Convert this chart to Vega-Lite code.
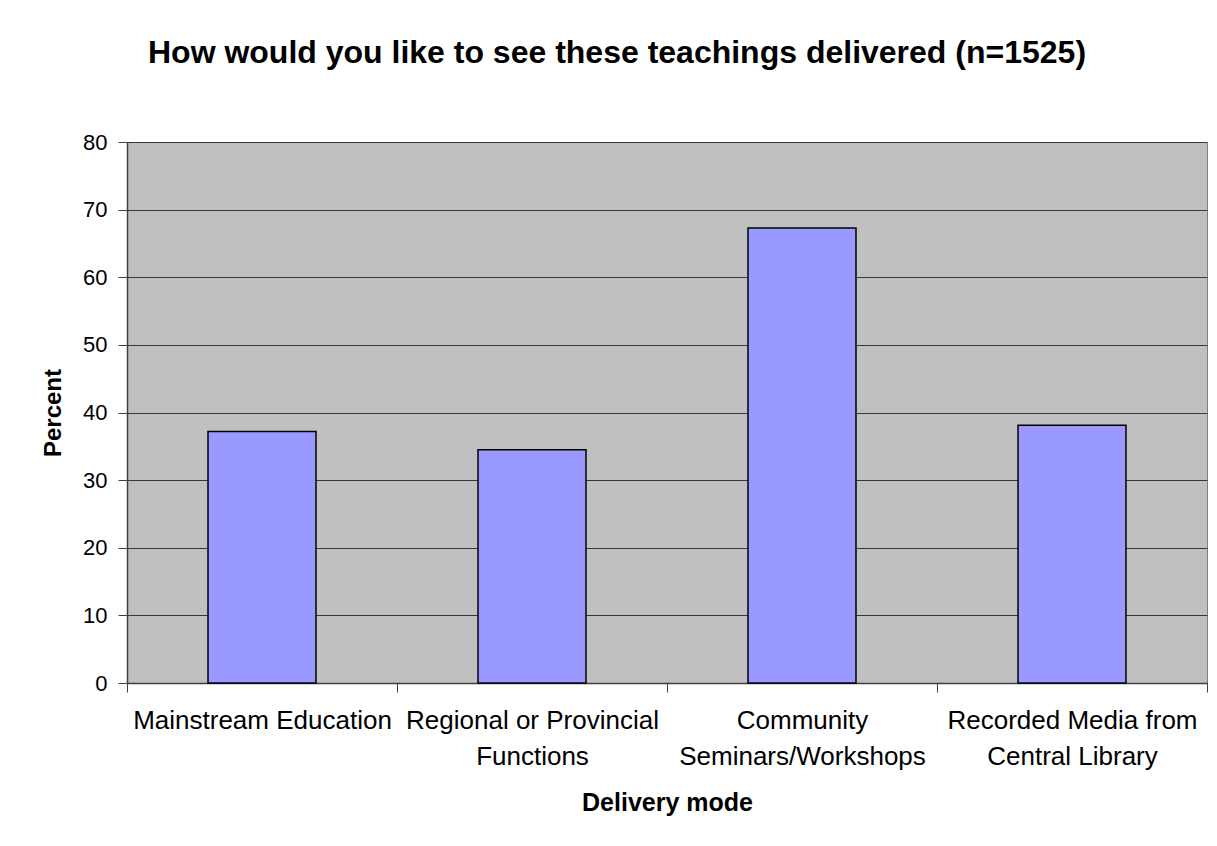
{
  "$schema": "https://vega.github.io/schema/vega-lite/v6.json",
  "autosize": "none",
  "width": 1080,
  "height": 541,
  "padding": {"left": 127, "top": 142, "right": 10, "bottom": 163},
  "background": "#ffffff",
  "title": {
    "text": "How would you like to see these teachings delivered (n=1525)",
    "font": "Liberation Sans",
    "fontSize": 32,
    "fontWeight": "bold",
    "color": "#000000",
    "anchor": "middle",
    "baseline": "alphabetic",
    "offset": 36,
    "dx": -50
  },
  "config": {
    "view": {"fill": "#C0C0C0", "stroke": "#808080", "strokeWidth": 1},
    "font": "Liberation Sans"
  },
  "data": {
    "values": [
      {"mode": "Mainstream Education", "percent": 37.2},
      {"mode": "Regional or Provincial Functions", "percent": 34.5},
      {"mode": "Community Seminars/Workshops", "percent": 67.3},
      {"mode": "Recorded Media from Central Library", "percent": 38.1}
    ]
  },
  "mark": {"type": "bar", "fill": "#9999FF", "stroke": "#000000", "strokeWidth": 1.5, "width": {"band": 0.4}},
  "encoding": {
    "x": {
      "field": "mode",
      "type": "nominal",
      "sort": null,
      "scale": {"paddingInner": 0, "paddingOuter": 0},
      "axis": {
        "title": "Delivery mode",
        "titleFont": "Liberation Sans",
        "titleFontSize": 25,
        "titleFontWeight": "bold",
        "titleColor": "#000000",
        "titleBaseline": "alphabetic",
        "titleY": 127,
        "labelAngle": 0,
        "labelFont": "Liberation Sans",
        "labelFontSize": 26,
        "labelColor": "#000000",
        "labelLimit": 0,
        "labelBaseline": "top",
        "labelPadding": 15,
        "labelLineHeight": 36,
        "labelExpr": "datum.value == 'Regional or Provincial Functions' ? ['Regional or Provincial', 'Functions'] : datum.value == 'Community Seminars/Workshops' ? ['Community', 'Seminars/Workshops'] : datum.value == 'Recorded Media from Central Library' ? ['Recorded Media from', 'Central Library'] : datum.value",
        "tickBand": "extent",
        "tickSize": 9,
        "tickColor": "#404040",
        "tickWidth": 1,
        "domainColor": "#404040",
        "domainWidth": 1.5,
        "grid": false
      }
    },
    "y": {
      "field": "percent",
      "type": "quantitative",
      "scale": {"domain": [0, 80], "nice": false},
      "axis": {
        "title": "Percent",
        "titleFont": "Liberation Sans",
        "titleFontSize": 24,
        "titleFontWeight": "bold",
        "titleColor": "#000000",
        "titlePadding": 17,
        "values": [0, 10, 20, 30, 40, 50, 60, 70, 80],
        "labelFont": "Liberation Sans",
        "labelFontSize": 22,
        "labelColor": "#000000",
        "labelPadding": 11,
        "tickSize": 9,
        "tickColor": "#404040",
        "domainColor": "#404040",
        "domainWidth": 1.5,
        "grid": true,
        "gridColor": "#383838",
        "gridWidth": 1
      }
    }
  }
}
